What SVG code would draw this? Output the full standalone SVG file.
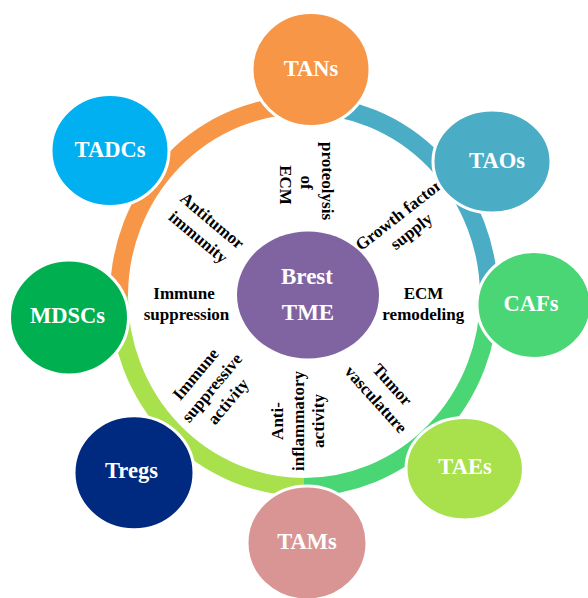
<svg xmlns="http://www.w3.org/2000/svg" width="588" height="598" viewBox="0 0 588 598">
<style>
.ring{fill:none;stroke-width:18;stroke-linecap:butt}
.node{stroke:#ffffff;stroke-width:3}
.nl{font-family:"Liberation Serif","Times New Roman",serif;font-weight:bold;font-size:22.5px;fill:#ffffff;text-anchor:middle}
.cl{font-family:"Liberation Serif","Times New Roman",serif;font-weight:bold;font-size:23px;fill:#ffffff;text-anchor:middle}
.il{font-family:"Liberation Serif","Times New Roman",serif;font-weight:bold;font-size:17px;fill:#000000;text-anchor:middle}
</style>
<rect width="588" height="598" fill="#ffffff"/>
<g id="connectors">
<path class="ring" stroke="#F79646" d="M119 296 A185 191 0 0 1 304 105"/>
<path class="ring" stroke="#4BACC6" d="M304 105 A185 191 0 0 1 489 296"/>
<path class="ring" stroke="#4AD675" d="M489 296 A185 191 0 0 1 304 487"/>
<path class="ring" stroke="#A8E14C" d="M304 487 A185 191 0 0 1 119 296"/>
</g>
<g id="labels">
<text class="il" transform="translate(301,182.5) rotate(90)"><tspan x="-1.5" y="-21">proteolysis</tspan><tspan x="0" y="0">of</tspan><tspan x="2.5" y="21">ECM</tspan></text>
<text class="il" transform="translate(205,229.2) rotate(40)"><tspan x="0" y="-5.5">Antitumor</tspan><tspan x="0" y="16">immunity</tspan></text>
<text class="il" transform="translate(405.8,224.2) rotate(-38)"><tspan x="0" y="-6.2">Growth factor</tspan><tspan x="0" y="14.5">supply</tspan></text>
<text class="il"><tspan x="184" y="299.3">Immune</tspan><tspan x="186.5" y="320.3">suppression</tspan></text>
<text class="il"><tspan x="423.5" y="298.8">ECM</tspan><tspan x="423.3" y="320">remodeling</tspan></text>
<text class="il" transform="translate(213.3,389) rotate(-50)"><tspan x="0" y="-17.5">Immune</tspan><tspan x="0" y="3.7">suppressive</tspan><tspan x="0" y="25">activity</tspan></text>
<text class="il" transform="translate(303.5,421) rotate(-90)"><tspan x="0" y="-20.5">Anti-</tspan><tspan x="0" y="0">inflammatory</tspan><tspan x="0" y="20.5">activity</tspan></text>
<text class="il" transform="translate(384.2,392) rotate(48)"><tspan x="0" y="-5.3">Tumor</tspan><tspan x="0" y="16.8">vasculature</tspan></text>
</g>
<g id="center">
<ellipse cx="308" cy="295" rx="71" ry="63.5" fill="#8064A2"/>
<text class="cl"><tspan x="307" y="284">Brest</tspan><tspan x="308" y="320">TME</tspan></text>
</g>
<g id="TANs">
<ellipse class="node" cx="311" cy="69.5" rx="59" ry="57" fill="#F79646"/>
<text class="nl" x="311" y="76">TANs</text>
</g>
<g id="TADCs">
<ellipse class="node" cx="110" cy="150.5" rx="59" ry="56" fill="#00B0F0"/>
<text class="nl" x="110" y="157">TADCs</text>
</g>
<g id="TAOs">
<ellipse class="node" cx="492" cy="161.5" rx="59" ry="51.5" fill="#4BACC6"/>
<text class="nl" x="497" y="168.3">TAOs</text>
</g>
<g id="CAFs">
<ellipse class="node" cx="534" cy="305" rx="57" ry="53.5" fill="#4AD675"/>
<text class="nl" x="531" y="311">CAFs</text>
</g>
<g id="MDSCs">
<ellipse class="node" cx="69" cy="317.5" rx="59.5" ry="57.5" fill="#00B050"/>
<text class="nl" x="67.5" y="323.3">MDSCs</text>
</g>
<g id="Tregs">
<ellipse class="node" cx="134" cy="472.7" rx="60" ry="57" fill="#002A80"/>
<text class="nl" x="131.5" y="478.3">Tregs</text>
</g>
<g id="TAMs">
<ellipse class="node" cx="307" cy="543" rx="60" ry="57" fill="#D99594"/>
<text class="nl" x="307" y="549.3">TAMs</text>
</g>
<g id="TAEs">
<ellipse class="node" cx="464.7" cy="468.7" rx="58.7" ry="51.3" fill="#A8E14C"/>
<text class="nl" x="465" y="474">TAEs</text>
</g>
</svg>
